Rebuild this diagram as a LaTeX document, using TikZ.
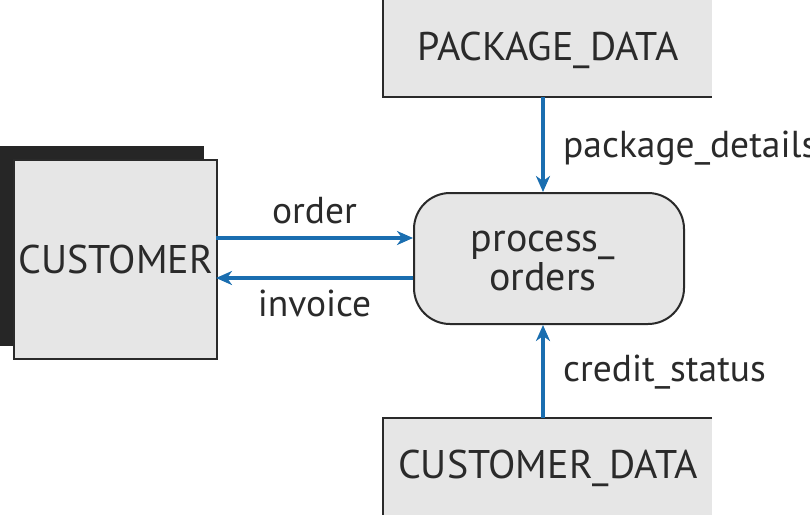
\documentclass[tikz,border=0pt]{standalone}
\usepackage{fontspec}
\setmainfont{PT Sans}
\usetikzlibrary{arrows.meta}
\definecolor{boxfill}{HTML}{E6E6E6}
\definecolor{flowblue}{HTML}{1A6EB0}
\definecolor{edge}{HTML}{2A2A2A}
\begin{document}
\begin{tikzpicture}[x=1pt,y=-1pt,
  txt/.style={font=\fontsize{40}{43}\selectfont, text=edge, inner sep=0},
  lbl/.style={font=\fontsize{37.5}{40}\selectfont, text=edge, inner sep=0},
  flow/.style={draw=flowblue, line width=3.3pt, -{Stealth[length=16pt,width=14pt,inset=5pt]}},
  border/.style={draw=edge, line width=2pt}]
\useasboundingbox (0,0) rectangle (810,514);
% customer entity
\fill[edge!90!black] (0,146) rectangle (204,346);
\node[border, fill=boxfill, minimum width=203pt, minimum height=199pt, anchor=north west, inner sep=0] (cust) at (13,159) {};
\node[txt] (custtxt) at (cust.center) {CUSTOMER};
% process
\node[border, fill=boxfill, rounded corners=36pt, minimum width=270pt, minimum height=131pt, anchor=north west, inner sep=0] (proc) at (413,192) {};
\node[txt, align=center] (proctxt) at (543,261) {process\_\\[-4pt]orders};
% data stores
\fill[boxfill] (383,-2) rectangle (712,97);
\draw[border] (712,-2) -- (383,-2) -- (383,97) -- (712,97);
\coordinate (pkgb) at (543,97);
\node[txt] (pkgtxt) at (548,50) {PACKAGE\_DATA};
\fill[boxfill] (383,418) rectangle (712,520);
\draw[border] (712,418) -- (383,418) -- (383,520);
\coordinate (custdt) at (543,418);
\node[txt] (cdtxt) at (548,468) {CUSTOMER\_DATA};
% flows
\coordinate (o1) at (216,238);
\coordinate (o2) at (413,238);
\coordinate (i1) at (413,278);
\coordinate (i2) at (216,278);
\draw[flow] (o1) -- (o2) node[lbl, midway, above=12pt] (ordlbl) {order};
\draw[flow] (i1) -- (i2) node[lbl, midway, below=10pt] (invlbl) {invoice};
\draw[flow] (pkgb) -- (proc.north -| pkgb);
\draw[flow] (custdt) -- (proc.south -| custdt);
\node[lbl, anchor=west] (pdlbl) at (563,148) {package\_details};
\node[lbl, anchor=west] (cslbl) at (563,372) {credit\_status};
\end{tikzpicture}
\end{document}
